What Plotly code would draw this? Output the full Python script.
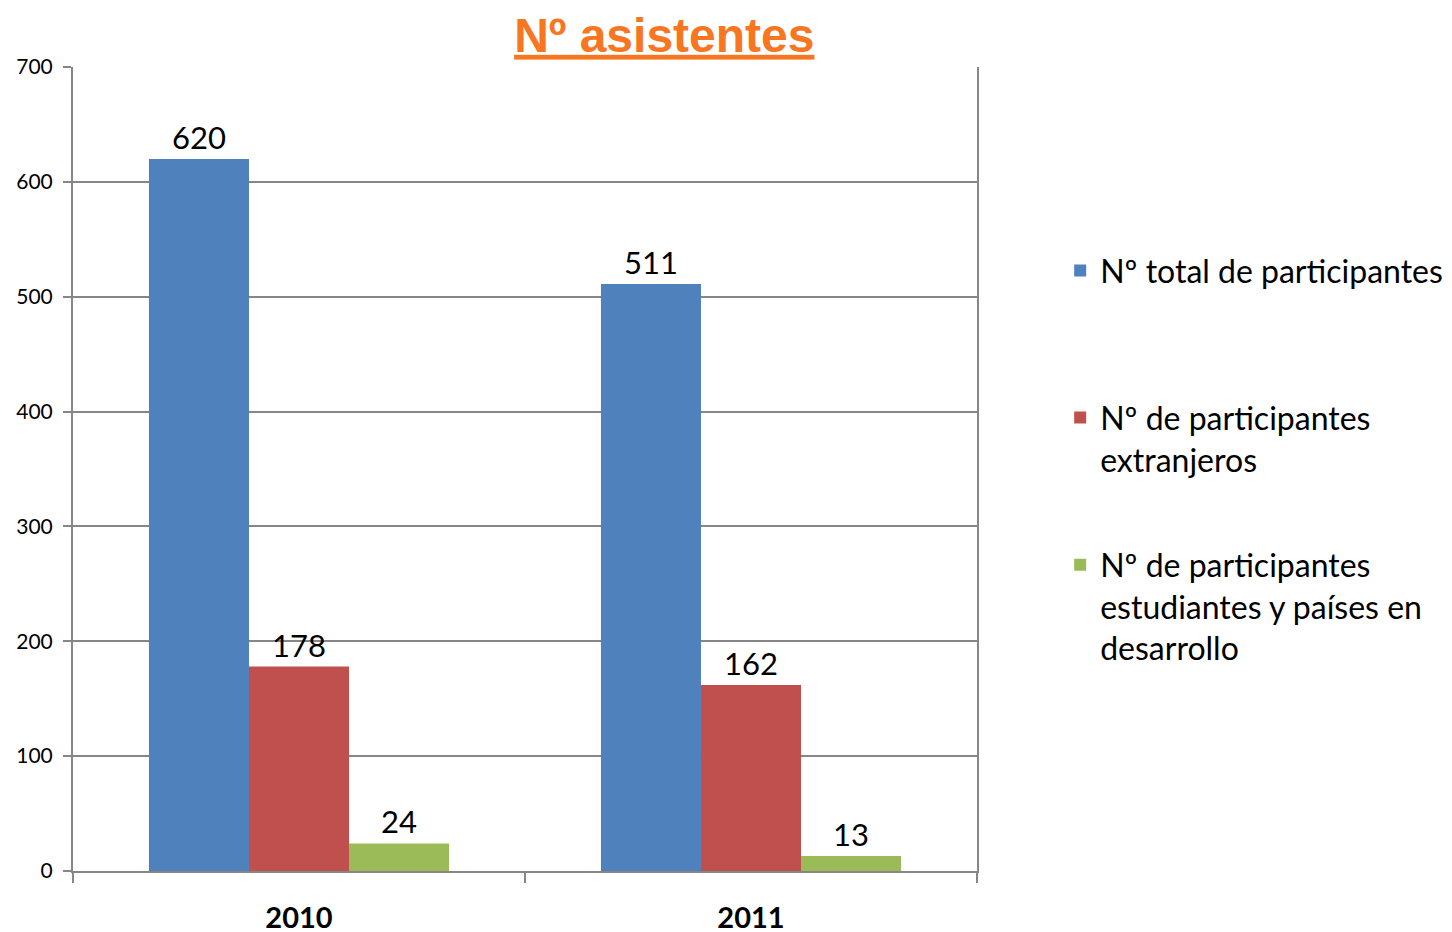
import plotly.graph_objects as go

years = ["2010", "2011"]
total = [620, 511]
extranjeros = [178, 162]
estudiantes = [24, 13]

series = [
    ("Nº total de participantes<br> ", total, "#4F81BD"),
    ("Nº de participantes<br>extranjeros", extranjeros, "#C0504D"),
    ("Nº de participantes<br>estudiantes y países en<br>desarrollo", estudiantes, "#9BBB59"),
]

font = "Lato, 'Open Sans', sans-serif"
grid = "#868686"

fig = go.Figure()
for i, (name, vals, col) in enumerate(series):
    fig.add_trace(
        go.Bar(
            x=years,
            y=vals,
            name=name,
            marker=dict(color=col, line=dict(width=0)),
            text=vals,
            textposition="outside",
            textfont=dict(family=font, size=31, color="#000000"),
            cliponaxis=False,
            legendgroup=str(i),
        )
    )

# page body has an 8px margin, so margins are shifted to compensate
fig.update_layout(
    width=1452,
    height=932,
    margin=dict(l=65, r=477, t=59, b=69),
    plot_bgcolor="white",
    paper_bgcolor="white",
    barmode="group",
    bargap=0.336,
    bargroupgap=0,
    title=dict(
        text="<b><span style='text-decoration:underline'>Nº asistentes</span></b>",
        x=0.452,
        xanchor="center",
        y=0.971,
        yanchor="middle",
        font=dict(family="'Liberation Sans', Arial, sans-serif", size=48, color="#F7761F"),
    ),
    legend=dict(
        x=1.092,
        xanchor="left",
        y=0.781,
        yanchor="top",
        valign="top",
        font=dict(family=font, size=32, color="#000000"),
        tracegroupgap=61,
        itemwidth=30,
    ),
    showlegend=True,
)

fig.update_yaxes(
    range=[0, 700],
    dtick=100,
    showgrid=True,
    gridcolor=grid,
    gridwidth=2,
    showline=True,
    linecolor=grid,
    linewidth=2,
    mirror=True,
    ticks="outside",
    ticklen=8,
    tickcolor=grid,
    tickwidth=2,
    ticklabelstandoff=6,
    tickfont=dict(family=font, size=21, color="#000000"),
    zeroline=False,
    automargin=False,
)
fig.update_xaxes(
    showline=True,
    linecolor=grid,
    linewidth=2,
    ticks="outside",
    tickson="boundaries",
    ticklen=10,
    tickcolor=grid,
    tickwidth=2,
    ticklabelstandoff=20,
    tickfont=dict(family=font, size=29, color="#000000"),
    tickprefix="<b>",
    ticksuffix="</b>",
    automargin=False,
)

fig.write_html("out.html")
